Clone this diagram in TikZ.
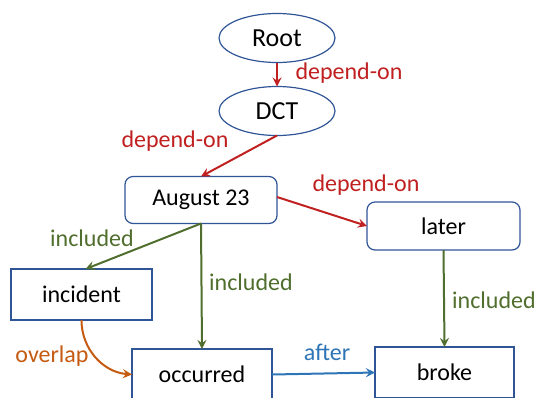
\documentclass[tikz,border=0pt]{standalone}
\usepackage{fontspec}
\setmainfont{Carlito}
\usepackage{tikz}
\usetikzlibrary{shapes,arrows,positioning}
\definecolor{nodeblue}{RGB}{47, 85, 151}
\definecolor{depred}{RGB}{192, 32, 32}
\definecolor{incgreen}{RGB}{80, 110, 45}
\definecolor{ovorange}{RGB}{197, 90, 17}
\definecolor{aftblue}{RGB}{46, 117, 182}

\begin{document}
\begin{tikzpicture}[x=0.5pt, y=-0.5pt,
  every node/.style={font=\fontsize{12}{14}\selectfont, outer sep=0pt},
  oval/.style={ellipse, draw=nodeblue, line width=0.6pt, minimum width=58pt, minimum height=24.5pt, font=\fontsize{13}{15}\selectfont},
  rbox/.style={rectangle, rounded corners=4pt, draw=nodeblue, line width=0.6pt, minimum width=76pt, minimum height=23.5pt},
  sbox/.style={rectangle, draw=nodeblue, line width=0.6pt, minimum width=70pt, minimum height=25.5pt},
  rel/.style={line width=1pt, -stealth}]
\clip (0,0) rectangle (539,397);

% Ellipses on top
\node[oval] (root) at (277,38) {Root};
\node[oval] (dct) at (277,111) {DCT};

% Rounded boxes
\node[rbox] (aug) at (201,200) {August 23};
\node[rbox, minimum width=76.5pt, minimum height=24pt] (later) at (443.5,226) {later};

% Plain boxes
\node[sbox, minimum width=70.5pt] (incident) at (81.5,294.5) {incident};
\node[sbox] (occurred) at (202,374.5) {occurred};
\node[sbox, minimum width=69.5pt] (broke) at (444.5,372.5) {broke};

% Labels
\node[text=depred] (l1) at (349,73) {depend-on};
\node[text=depred] (l2) at (175,141) {depend-on};
\node[text=depred] (l3) at (366,185) {depend-on};
\node[text=incgreen] (l4) at (92,238) {included};
\node[text=incgreen] (l5) at (251,282) {included};
\node[text=incgreen] (l6) at (494,300) {included};
\node[text=ovorange] (l7) at (52,356) {overlap};
\node[text=aftblue] (l8) at (327,352) {after};

% Connectors
\draw[rel, depred] (root) -- (dct);
\draw[rel, depred] (dct.south) -- (aug.north);
\draw[rel, depred] ([yshift=1.5pt]aug.east) -- (later.west);
\draw[rel, incgreen] (aug.south) -- ([xshift=2pt]incident.north);
\draw[rel, incgreen] (aug.south) -- (occurred.north);
\draw[rel, incgreen] (later.south) -- (broke.north);
\draw[rel, ovorange] (incident.south) to[out=-90, in=175] (occurred.west);
\draw[rel, aftblue] (occurred.east) -- (broke.west);
\end{tikzpicture}
\end{document}
